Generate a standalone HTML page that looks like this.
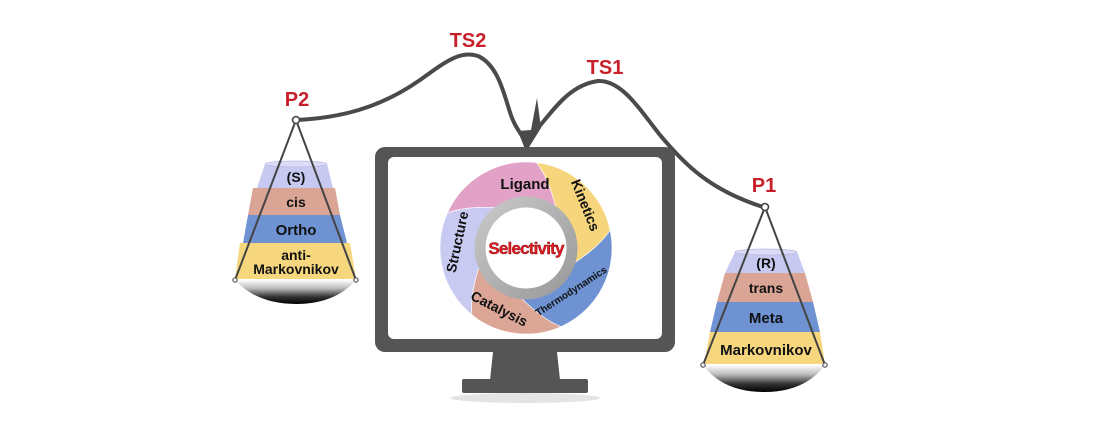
<!DOCTYPE html>
<html><head><meta charset="utf-8"><style>
html,body{margin:0;padding:0;background:#fff;}
svg{display:block;}
text{font-family:"Liberation Sans",Arial,sans-serif;font-weight:bold;}
</style></head><body>
<svg id="s" width="1100" height="440" viewBox="0 0 1100 440" xmlns="http://www.w3.org/2000/svg">
<defs>
<linearGradient id="bowl" x1="0" y1="0" x2="0" y2="1">
<stop offset="0" stop-color="#ffffff"/><stop offset="0.35" stop-color="#bbbbbb"/><stop offset="0.7" stop-color="#333"/><stop offset="1" stop-color="#000"/>
</linearGradient>
<linearGradient id="ring" x1="0" y1="0" x2="1" y2="1">
<stop offset="0" stop-color="#c8c8c8"/><stop offset="1" stop-color="#9a9a9a"/>
</linearGradient>
</defs>

<!-- curve -->
<path d="M296,120 C340,118 380,108 420,80 C445,62 460,50 478,56 C500,66 505,100 512,118 C516,128 520,132 523,138" fill="none" stroke="#4a4a4a" stroke-width="4" stroke-linecap="round"/>
<path d="M538,128 C555,108 570,85 598,81 C622,80 640,110 660,135 C685,165 710,190 763,207" fill="none" stroke="#4a4a4a" stroke-width="4" stroke-linecap="round"/>
<path d="M518,131 L526,152 L541,128 L537,98 L531,130 Z" fill="#4a4a4a"/>
<text x="468" y="47" font-size="20" fill="#c8202a" text-anchor="middle">TS2</text>
<text x="605" y="74" font-size="20" fill="#c8202a" text-anchor="middle">TS1</text>
<text x="297" y="106" font-size="20" fill="#c8202a" text-anchor="middle">P2</text>
<text x="764" y="192" font-size="20" fill="#c8202a" text-anchor="middle">P1</text>

<!-- monitor -->
<ellipse cx="525" cy="398" rx="75" ry="5" fill="#e4e4e4"/>
<path d="M493,352 L557,352 L560,380 L490,380 Z" fill="#555"/>
<rect x="462" y="379" width="126" height="14" rx="2" fill="#555"/>
<rect x="375" y="147" width="300" height="205" rx="10" fill="#555"/>
<rect x="388" y="157" width="274" height="182" rx="6" fill="#fff"/>

<g id="wheel"></g>
<circle cx="526" cy="248" r="46" fill="none" stroke="url(#ring)" stroke-width="11"/>
<circle cx="526" cy="248" r="40" fill="#fff"/>
<text x="526" y="254" font-size="17" fill="#e21b23" stroke="#7a0a0a" stroke-width="0.4" text-anchor="middle" letter-spacing="-0.8">Selectivity</text>
<text x="525" y="189" font-size="15" fill="#111" text-anchor="middle">Ligand</text>
<text x="0" y="0" font-size="14" fill="#111" text-anchor="middle" transform="translate(581,207) rotate(68)">Kinetics</text>
<text x="0" y="0" font-size="10" fill="#111" text-anchor="middle" transform="translate(573,294) rotate(-33)">Thermodynamics</text>
<text x="0" y="0" font-size="14" fill="#111" text-anchor="middle" transform="translate(497,313) rotate(27)">Catalysis</text>
<text x="0" y="0" font-size="14" fill="#111" text-anchor="middle" transform="translate(462,243) rotate(-78)">Structure</text>

<!-- left pan -->
<g>
<path d="M240,243 L350,243 L356,279 L235,279 Z" fill="#f6d77e"/>
<path d="M248,215 L340,215 L347,243 L243,243 Z" fill="#6e92d2"/>
<path d="M253,188 L335,188 L340,215 L248,215 Z" fill="#dba595"/>
<path d="M265,164 L327,164 L333,188 L257,188 Z" fill="#c7c9f1"/>
<ellipse cx="296" cy="164" rx="31" ry="3" fill="#dcdcf8" stroke="#b8b8e0" stroke-width="0.7"/>
<path d="M235,280 L356,280 Q335,304 296,304 Q257,304 235,280 Z" fill="url(#bowl)"/>
<line x1="296" y1="120" x2="235" y2="280" stroke="#444" stroke-width="2"/>
<line x1="296" y1="120" x2="356" y2="280" stroke="#444" stroke-width="2"/>
<circle cx="296" cy="120" r="3.5" fill="#fff" stroke="#444" stroke-width="1.6"/>
<circle cx="235" cy="280" r="2.2" fill="#eee" stroke="#444"/>
<circle cx="356" cy="280" r="2.2" fill="#eee" stroke="#444"/>
<text x="296" y="182" font-size="14" fill="#111" text-anchor="middle">(S)</text>
<text x="296" y="207" font-size="14" fill="#111" text-anchor="middle">cis</text>
<text x="296" y="235" font-size="15" fill="#111" text-anchor="middle">Ortho</text>
<text x="296" y="260" font-size="14" fill="#111" text-anchor="middle">anti-</text>
<text x="296" y="274" font-size="14" fill="#111" text-anchor="middle">Markovnikov</text>
</g>

<!-- right pan -->
<g>
<path d="M710,332 L820,332 L825,364 L704,364 Z" fill="#f6d77e"/>
<path d="M717,302 L813,302 L820,332 L710,332 Z" fill="#6e92d2"/>
<path d="M725,273 L805,273 L813,302 L717,302 Z" fill="#dba595"/>
<path d="M735,252 L797,252 L805,273 L725,273 Z" fill="#c7c9f1"/>
<ellipse cx="766" cy="252" rx="31" ry="3" fill="#dcdcf8" stroke="#b8b8e0" stroke-width="0.7"/>
<path d="M703,365 L825,365 Q805,392 764,392 Q723,392 703,365 Z" fill="url(#bowl)"/>
<line x1="765" y1="207" x2="703" y2="365" stroke="#444" stroke-width="2"/>
<line x1="765" y1="207" x2="825" y2="365" stroke="#444" stroke-width="2"/>
<circle cx="765" cy="207" r="3.5" fill="#fff" stroke="#444" stroke-width="1.6"/>
<circle cx="703" cy="365" r="2.2" fill="#eee" stroke="#444"/>
<circle cx="825" cy="365" r="2.2" fill="#eee" stroke="#444"/>
<text x="766" y="268" font-size="14" fill="#111" text-anchor="middle">(R)</text>
<text x="766" y="293" font-size="14" fill="#111" text-anchor="middle">trans</text>
<text x="766" y="323" font-size="15" fill="#111" text-anchor="middle">Meta</text>
<text x="766" y="355" font-size="15" fill="#111" text-anchor="middle">Markovnikov</text>
</g>
</svg>
<script>
(function(){
var cx=526,cy=248,R=86,r=50,g=document.getElementById('wheel');
var segs=[[-156,-83,'#e2a2c8'],[-83,-12,'#f6d57c'],[-12,66,'#6e92d2'],[66,129,'#dca696'],[129,204,'#c9caf2']];
var sw=30;
function p(a,rad){a=a*Math.PI/180;return (cx+rad*Math.cos(a)).toFixed(1)+','+(cy+rad*Math.sin(a)).toFixed(1);}
var h='';
segs.forEach(function(s){
 var a1=s[0],a2=s[1];
 var d='M'+p(a1,R)+' A'+R+','+R+' 0 0 1 '+p(a2,R)+
 ' Q'+p(a2+sw*0.35,(R+r)/2+6)+' '+p(a2+sw,r)+
 ' A'+r+','+r+' 0 0 0 '+p(a1+sw,r)+
 ' Q'+p(a1+sw*0.35,(R+r)/2+6)+' '+p(a1,R)+' Z';
 h+='<path d="'+d+'" fill="'+s[2]+'" stroke="#fff" stroke-width="0.6"/>';
});
g.innerHTML=h;
})();
</script>
</body></html>
